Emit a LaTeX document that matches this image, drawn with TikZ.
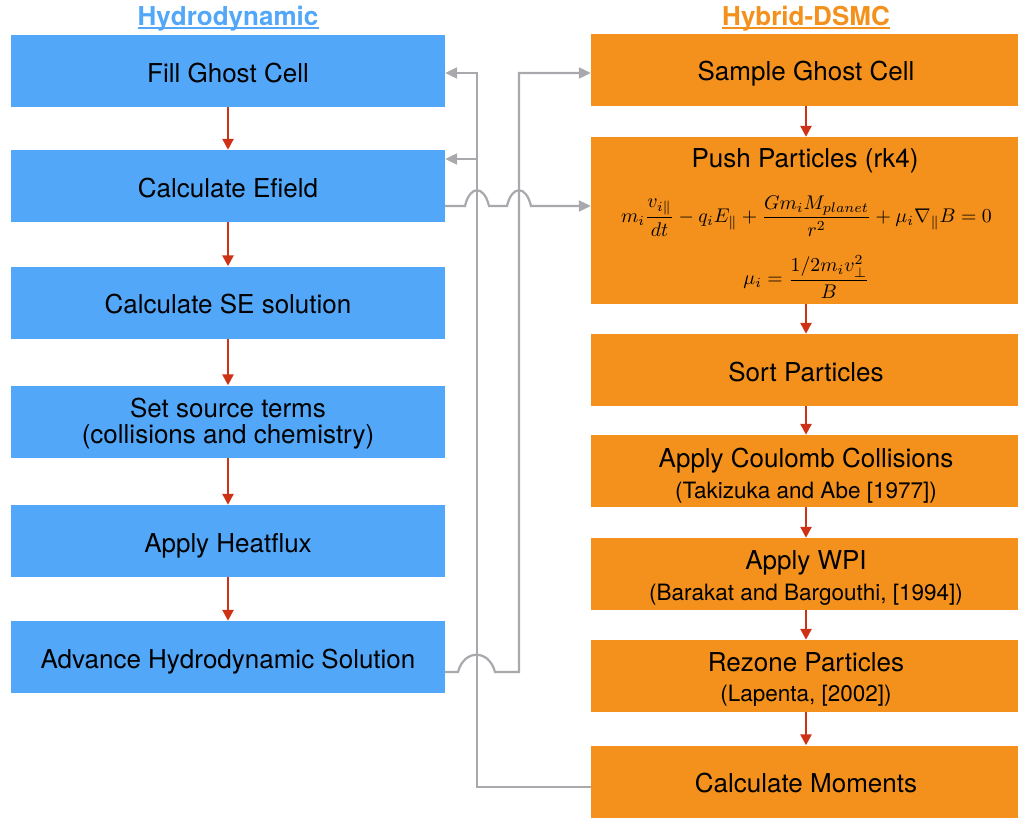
\documentclass[tikz,border=0pt]{standalone}
\usepackage{graphicx}
\usepackage{fontspec}
\setmainfont{TeX Gyre Heros}
\usetikzlibrary{arrows.meta}
\definecolor{hblue}{RGB}{82,167,248}
\definecolor{horange}{RGB}{243,145,28}
\definecolor{cgray}{RGB}{168,168,173}
\definecolor{cred}{RGB}{206,50,22}
\begin{document}
\begin{tikzpicture}[x=1pt,y=-1pt,
  lbox/.style={fill=hblue,minimum width=434pt,minimum height=72pt,inner sep=0pt,text height=22pt,text depth=0pt,font=\fontsize{26}{30}\selectfont},
  rbox/.style={fill=horange,minimum width=430pt,minimum height=72pt,inner sep=0pt,text height=22pt,text depth=0pt,font=\fontsize{26}{30}\selectfont},
  mainline/.style={inner sep=0pt,anchor=base,font=\fontsize{26}{30}\selectfont},
  subline/.style={inner sep=0pt,anchor=base,font=\fontsize{22.5}{27}\selectfont},
  title/.style={inner sep=0pt,anchor=base,font=\fontsize{26}{30}\selectfont\bfseries},
  redarr/.style={draw=cred,line width=2.5pt,-{Triangle[length=11pt,width=11pt]}},
  conn/.style={draw=cgray,line width=2.2pt},
  connarr/.style={conn,-{Triangle[length=12pt,width=11pt]}},
  eq/.style={inner sep=0pt}]
\useasboundingbox (0,0) rectangle (1018,819);
\clip (0,0) rectangle (1018,819);
% titles
\node[title,text=hblue] (htitle) at (228,25) {Hydrodynamic};
\node[title,text=horange] (dtitle) at (806,25) {Hybrid-DSMC};
\draw[hblue,line width=1.5pt] ([yshift=-3pt]htitle.base west) -- ([yshift=-3pt]htitle.base east);
\draw[horange,line width=1.5pt] ([yshift=-3pt]dtitle.base west) -- ([yshift=-3pt]dtitle.base east);
% left column
\node[lbox] (fill) at (228,71) {Fill Ghost Cell};
\node[lbox] (efield) at (228,186) {Calculate Efield};
\node[lbox] (se) at (228,302.5) {Calculate SE solution};
\node[lbox] (src) at (228,421.5) {};
\node[mainline] (srca) at (228,417) {Set source terms};
\node[mainline] (srcb) at (228,443.5) {(collisions and chemistry)};
\node[lbox] (heat) at (228,541) {Apply Heatflux};
\node[lbox] (adv) at (228,657) {Advance Hydrodynamic Solution};
% right column
\node[rbox] (sample) at (806,69.5) {Sample Ghost Cell};
\node[rbox,minimum height=167pt] (push) at (806,220.5) {};
\node[mainline] (pushtitle) at (805,167) {Push Particles (rk4)};
\node[eq] (eqa) at (806.5,216) {\scalebox{1.98}{$\displaystyle m_i\frac{v_{i\parallel}}{dt} - q_iE_{\parallel} + \frac{Gm_iM_{planet}}{r^2} + \mu_i\nabla_{\parallel}B = 0$}};
\node[eq] (eqb) at (806.5,277) {\scalebox{1.98}{$\displaystyle \mu_i = \frac{1/2m_iv_{\perp}^2}{B}$}};
\node[rbox] (sort) at (806,370) {Sort Particles};
\node[rbox] (coul) at (806,471) {};
\node[mainline] (coula) at (806,467) {Apply Coulomb Collisions};
\node[subline] (coulb) at (806,498.5) {(Takizuka and Abe [1977])};
\node[rbox] (wpi) at (806,574) {};
\node[mainline] (wpia) at (806,569) {Apply WPI};
\node[subline] (wpib) at (806,600) {(Barakat and Bargouthi, [1994])};
\node[rbox] (rez) at (806,676) {};
\node[mainline] (reza) at (806,671) {Rezone Particles};
\node[subline] (rezb) at (806,701.5) {(Lapenta, [2002])};
\node[rbox] (mom) at (806,781.5) {Calculate Moments};
% red flow arrows
\foreach \a/\b in {fill/efield,efield/se,se/src,src/heat,heat/adv,sample/push,push/sort,sort/coul,coul/wpi,wpi/rez,rez/mom}
  \draw[redarr] (\a) -- (\b);
% gray connectors
\coordinate (busLtop) at (477,73);
\coordinate (busLbot) at (477,787);
\coordinate (busLe) at (477,159);
\coordinate (busRtop) at (519,73);
\coordinate (busRbot) at (519,672);
\coordinate (effrom) at (445,206);
\draw[connarr] (busLbot -| mom.west) -- (busLbot) -- (busLtop) -- (busLtop -| fill.east);
\draw[connarr] (busLe) -- (busLe -| efield.east);
\draw[connarr] (busRbot -| adv.east) -- (458,672) .. controls (464,649) and (489,649) .. (495,672) -- (busRbot) -- (busRtop) -- (busRtop -| sample.west);
\draw[connarr] (effrom -| efield.east) -- (465,206) .. controls (470,185) and (484,185) .. (489,206) -- (507,206) .. controls (512,185) and (526,185) .. (531,206) -- (effrom -| push.west);
\end{tikzpicture}
\end{document}
